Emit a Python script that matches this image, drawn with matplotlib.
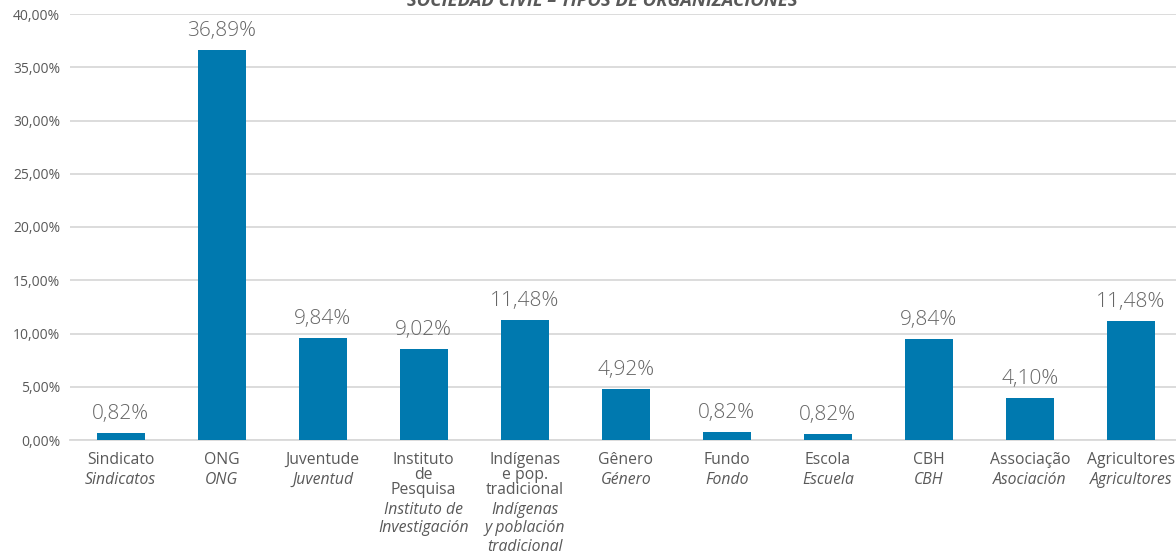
import matplotlib.pyplot as plt
from matplotlib.ticker import FuncFormatter

plt.rcParams['font.family'] = ['Open Sans', 'DejaVu Sans']

# category labels: portuguese (upright) and spanish (italic)
labels_pt = [["Sindicato"], ["ONG"], ["Juventude"], ["Instituto", "de", "Pesquisa"],
             ["Indígenas", "e pop.", "tradicional"], ["Gênero"], ["Fundo"], ["Escola"],
             ["CBH"], ["Associação"], ["Agricultores"]]
labels_es = [["Sindicatos"], ["ONG"], ["Juventud"], ["Instituto de", "Investigación"],
             ["Indígenas", "y población", "tradicional"], ["Género"], ["Fondo"], ["Escuela"],
             ["CBH"], ["Asociación"], ["Agricultores"]]

# bar heights as drawn, and the printed data labels
bar_values = [0.69, 36.6, 9.6, 8.56, 11.29, 4.8, 0.75, 0.56, 9.5, 3.98, 11.2]
value_labels = ["0,82%", "36,89%", "9,84%", "9,02%", "11,48%", "4,92%",
                "0,82%", "0,82%", "9,84%", "4,10%", "11,48%"]

yticks = [0, 5, 10, 15, 20, 25, 30, 35, 40]

blue = "#0079AF"
grid_c = "#D9D9D9"
text_c = "#595959"

fig = plt.figure(figsize=(11.76, 5.53), dpi=100)
ax = fig.add_axes([70 / 1176, 113 / 553, 1106 / 1176, 426 / 553])

x = list(range(len(bar_values)))
ax.bar(x, bar_values, width=0.475, color=blue, zorder=3)

ax.set_xlim(-0.5, 10.445)
ax.set_ylim(0, 40)
ax.set_yticks(yticks)
ax.yaxis.set_major_formatter(FuncFormatter(lambda v, p: f"{v:.2f}".replace(".", ",") + "%"))
ax.grid(axis="y", color=grid_c, linewidth=1.3, zorder=0)
ax.tick_params(axis="y", length=0, pad=7, labelsize=10, labelcolor=text_c)
ax.set_xticks([])
for s in ["top", "right", "left"]:
    ax.spines[s].set_visible(False)
ax.spines["bottom"].set_color(grid_c)
ax.spines["bottom"].set_linewidth(1.3)

# value labels above bars
for i, (v, lab) in enumerate(zip(bar_values, value_labels)):
    ax.annotate(lab, xy=(i, v), xytext=(0, 13.7), textcoords="offset points",
                ha="center", va="center", fontsize=15, color="#666666",
                fontweight="light")

# category labels, one line at a time
for i in x:
    pt = labels_pt[i]
    es = labels_es[i]
    for k, line in enumerate(pt):
        ypx = 20 + 15 * k
        ax.annotate(line, xy=(i, 0), xycoords=("data", "axes fraction"),
                    xytext=(0, -ypx * 0.72), textcoords="offset points",
                    ha="center", va="center", fontsize=11.3, color=text_c,
                    annotation_clip=False)
    base = 20 + 15 * (len(pt) - 1) + 20
    for j, line in enumerate(es):
        ypx = base + 18.5 * j
        ax.annotate(line, xy=(i, 0), xycoords=("data", "axes fraction"),
                    xytext=(0, -ypx * 0.72), textcoords="offset points",
                    ha="center", va="center", fontsize=11.3, color=text_c,
                    style="italic", annotation_clip=False)

fig.text(602 / 1176, 1 - 6 / 553, "SOCIEDAD CIVIL – TIPOS DE ORGANIZACIONES",
         ha="center", va="baseline", fontsize=13.3, fontweight="bold",
         style="italic", color=text_c)

fig.savefig("out.png", dpi=100)
